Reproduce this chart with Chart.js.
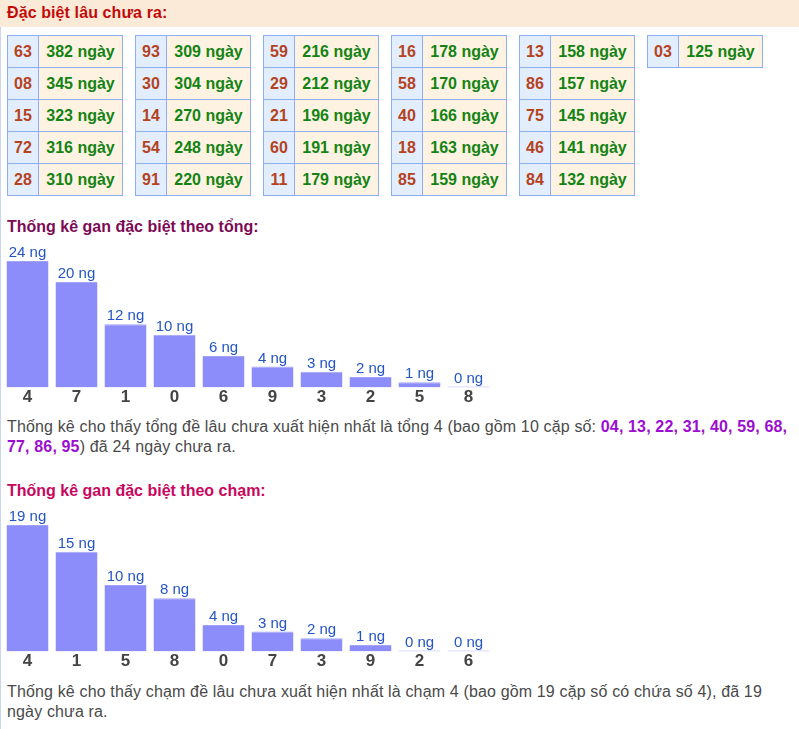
<!DOCTYPE html>
<html lang="vi">
<head>
<meta charset="utf-8">
<title>Đặc biệt lâu chưa ra</title>
<script src="https://cdn.jsdelivr.net/npm/chart.js@4.4.1/dist/chart.umd.min.js"></script>
<style>
  body { margin: 0; width: 799px; height: 729px; overflow: hidden; background: #fff; font-family: Arial, "Liberation Sans", sans-serif; position: relative; }
  .header { position: absolute; left: 0; top: 0; width: 799px; height: 27px; background: #fbead7; }
  .header span { position: absolute; left: 7px; top: 4px; font-size: 16px; font-weight: bold; color: #c20a0a; letter-spacing: 0.1px; }
  .side { position: absolute; left: 0; top: 27px; width: 1px; height: 702px; background: #c9d5ea; }
  table.gan { position: absolute; top: 35px; border-collapse: collapse; font-size: 16px; font-weight: bold; }
  table.gan td { border: 1px solid #8caef3; height: 31px; padding: 0; text-align: center; }
  table.gan td.num { width: 30px; background: #e2eefd; color: #b5421e; }
  table.gan td.day { width: 83px; background: #fef3e2; color: #138313; }
  .title { position: absolute; left: 7px; font-size: 16px; font-weight: bold; }
  .note { position: absolute; left: 7px; width: 792px; font-size: 16px; line-height: 20px; letter-spacing: 0.15px; color: #4a4a4a; }
  .note b { color: #9c0ecf; }
  canvas { position: absolute; }
</style>
</head>
<body>
<div class="header"><span>Đặc biệt lâu chưa ra:</span></div>
<div class="side"></div>
<div id="tables"></div>

<div class="title" style="top:218px; color:#7d0a55;">Thống kê gan đặc biệt theo tổng:</div>
<canvas id="sumChart" width="490" height="167" style="left:3px; top:241px;"></canvas>
<div class="note" style="top:417px;">Thống kê cho thấy tổng đề lâu chưa xuất hiện nhất là tổng 4 (bao gồm 10 cặp số: <b>04, 13, 22, 31, 40, 59, 68, 77, 86, 95</b>) đã 24 ngày chưa ra.</div>

<div class="title" style="top:482px; color:#c8075e;">Thống kê gan đặc biệt theo chạm:</div>
<canvas id="touchChart" width="490" height="167" style="left:3px; top:505px;"></canvas>
<div class="note" style="top:682px;">Thống kê cho thấy chạm đề lâu chưa xuất hiện nhất là chạm 4 (bao gồm 19 cặp số có chứa số 4), đã 19 ngày chưa ra.</div>

<script>
"use strict"

//global variables
const gapNumbers = ["63", "08", "15", "72", "28", "93", "30", "14", "54", "91", "59", "29", "21", "60", "11",
  "16", "58", "40", "18", "85", "13", "86", "75", "46", "84", "03"];
const gapDays = [382, 345, 323, 316, 310, 309, 304, 270, 248, 220, 216, 212, 196, 191, 179,
  178, 170, 166, 163, 159, 158, 157, 145, 141, 132, 125];
const sumLabels = ["4", "7", "1", "0", "6", "9", "3", "2", "5", "8"];
const sumDays = [24, 20, 12, 10, 6, 4, 3, 2, 1, 0];
const touchLabels = ["4", "1", "5", "8", "0", "7", "3", "9", "2", "6"];
const touchDays = [19, 15, 10, 8, 4, 3, 2, 1, 0, 0];
const rowsPerTable = 5;

//build the small tables, 5 rows each
function renderTables() {
  const holder = document.getElementById("tables");
  const tableCount = Math.ceil(gapNumbers.length / rowsPerTable);
  for (let t = 0; t < tableCount; t++) {
    let tableElem = document.createElement("table");
    tableElem.className = "gan";
    tableElem.style.left = (7 + t * 128) + "px";
    for (let r = 0; r < rowsPerTable; r++) {
      let i = t * rowsPerTable + r;
      if (i >= gapNumbers.length) break;
      let trElem = document.createElement("tr");
      let numTd = document.createElement("td");
      numTd.className = "num";
      numTd.textContent = gapNumbers[i];
      let dayTd = document.createElement("td");
      dayTd.className = "day";
      dayTd.textContent = `${gapDays[i]} ngày`;
      trElem.appendChild(numTd);
      trElem.appendChild(dayTd);
      tableElem.appendChild(trElem);
    }
    holder.appendChild(tableElem);
  }
}

//draws "N ng" above every bar
const valueLabels = {
  id: "valueLabels",
  afterDatasetsDraw(chart) {
    const ctx = chart.ctx;
    const meta = chart.getDatasetMeta(0);
    const values = chart.data.datasets[0].data;
    ctx.save();
    ctx.font = "15px Arial, 'Liberation Sans', sans-serif";
    ctx.fillStyle = "#2355c5";
    ctx.textAlign = "center";
    ctx.textBaseline = "alphabetic";
    meta.data.forEach(function(bar, i) {
      ctx.fillText(`${values[i]} ng`, bar.x, bar.y - 4);
    });
    ctx.restore();
  }
};

function addGanChart(canvasId, labels, values) {
  const ctx = document.getElementById(canvasId).getContext("2d");
  return new Chart(ctx, {
    type: "bar",
    data: {
      labels: labels,
      datasets: [{
        data: values,
        backgroundColor: "#8c8cfb",
        borderColor: "#a3a3f6",
        borderWidth: { top: 1, left: 0, right: 0, bottom: 0 },
        borderSkipped: "bottom",
        minBarLength: 1,
        barPercentage: 0.857,
        categoryPercentage: 1
      }]
    },
    options: {
      responsive: false,
      animation: false,
      layout: { padding: { top: 20, bottom: 0, left: 0, right: 0 } },
      plugins: { legend: { display: false }, tooltip: { enabled: false } },
      scales: {
        x: {
          grid: { display: false, drawTicks: false },
          border: { display: false },
          ticks: { padding: 0, color: "#444", font: { size: 17, weight: "bold", family: "Arial, 'Liberation Sans', sans-serif" } }
        },
        y: {
          display: false,
          min: 0,
          max: Math.max(...values)
        }
      }
    },
    plugins: [valueLabels]
  });
}

//call functions
renderTables();
addGanChart("sumChart", sumLabels, sumDays);
addGanChart("touchChart", touchLabels, touchDays);
</script>
</body>
</html>
